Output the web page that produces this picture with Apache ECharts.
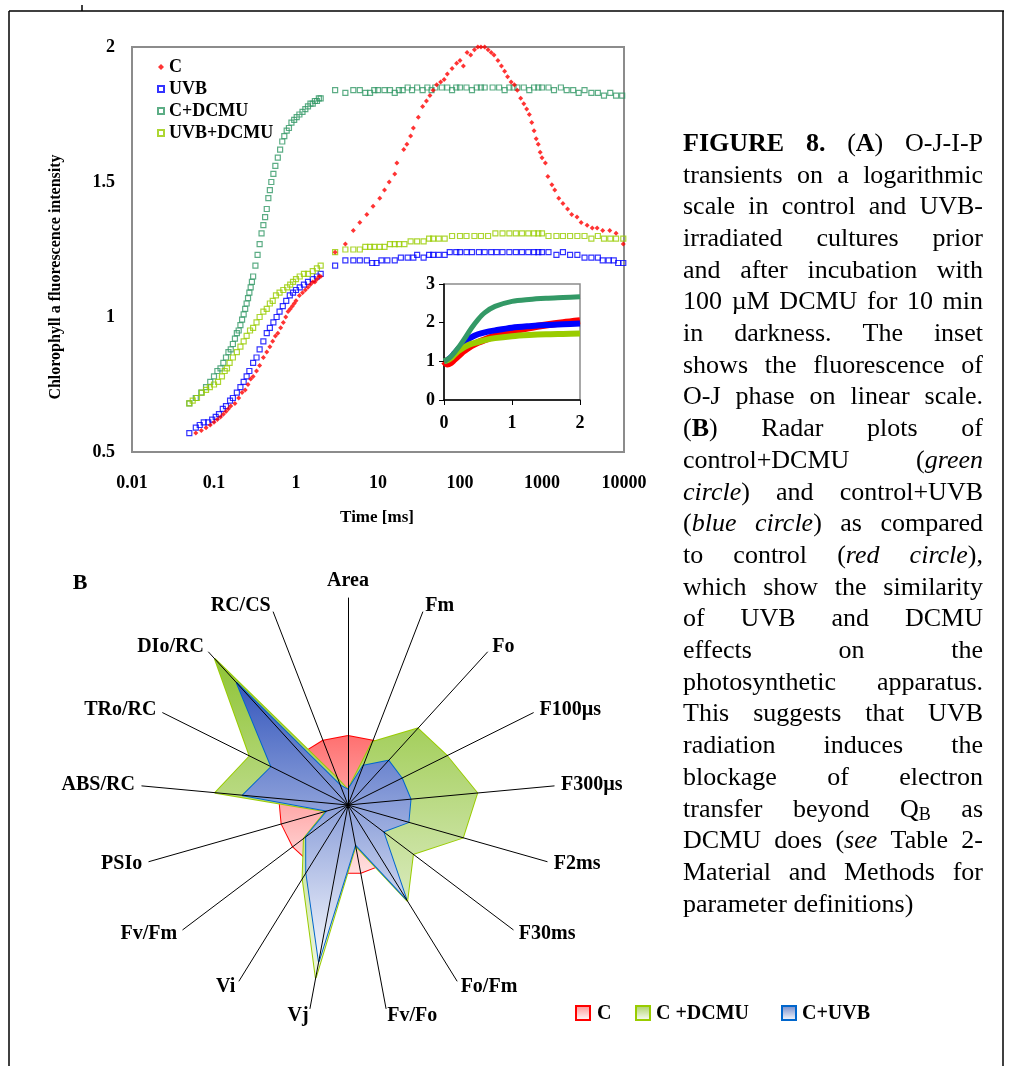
<!DOCTYPE html>
<html><head><meta charset="utf-8">
<script src="https://cdn.jsdelivr.net/npm/echarts@6/dist/echarts.min.js"></script>
<style>html,body{margin:0;padding:0;background:#fff}#c{width:1012px;height:1066px}</style>
</head><body><div id="c"></div>
<script>
// ---------------- DATA ----------------
// (A) main OJIP transients, log time [ms]
const tC = [0.06,0.07,0.08,0.09,0.10,0.11,0.12,0.13,0.14,0.15,0.16,0.18,0.20,0.22,0.24,0.26,0.28,0.30,0.33,0.36,0.40,0.44,0.48,0.52,0.56,0.60,0.65,0.70,0.75,0.80,0.85,0.90,0.95,1.0,1.1,1.2,1.3,1.4,1.5,1.6,1.7,1.8,1.9,2.0,
  3,4,5,6,7.3,8.7,10.5,12,13.7,16,17,20.6,22.5,25,27,31,35,39,43,47,52,58,64,70,80,91,100,110,122,135,150,165,180,200,220,240,260,290,320,350,380,420,460,500,550,600,650,700,750,800,850,900,950,1000,1100,1180,1320,1430,1600,1800,2050,2300,2670,3000,3550,4100,4700,5500,6700,8000,9800];
const fC = [0.57,0.58,0.59,0.60,0.61,0.62,0.63,0.64,0.65,0.66,0.67,0.68,0.70,0.72,0.73,0.75,0.77,0.78,0.80,0.82,0.85,0.87,0.89,0.91,0.93,0.94,0.96,0.98,1.00,1.02,1.03,1.04,1.05,1.06,1.08,1.09,1.10,1.11,1.12,1.13,1.13,1.14,1.15,1.15,
  1.24,1.27,1.32,1.35,1.38,1.41,1.44,1.47,1.50,1.53,1.57,1.62,1.64,1.67,1.70,1.74,1.78,1.80,1.82,1.84,1.86,1.87,1.88,1.90,1.92,1.94,1.95,1.93,1.98,1.97,1.99,2.00,2.00,2.00,1.99,1.98,1.97,1.95,1.93,1.91,1.89,1.87,1.86,1.84,1.81,1.79,1.77,1.75,1.72,1.69,1.66,1.64,1.61,1.59,1.57,1.52,1.49,1.47,1.44,1.42,1.40,1.38,1.37,1.35,1.34,1.33,1.33,1.32,1.32,1.31,1.27];

const tUVB = [0.05,0.06,0.067,0.075,0.085,0.095,0.105,0.115,0.128,0.14,0.157,0.17,0.19,0.21,0.23,0.25,0.27,0.30,0.33,0.36,0.40,0.44,0.48,0.53,0.58,0.63,0.69,0.76,0.84,0.92,1.0,1.11,1.25,1.4,1.6,1.8,2.0,
  3,4,5,6,7.3,8.5,9.6,11,13,16,19,23,27,30,36,42,47,55,65,75,90,100,120,140,170,200,240,280,330,400,480,570,680,800,900,1000,1200,1500,1800,2200,2700,3300,4000,4800,5500,6500,7500,8500,9800];
const fUVB = [0.57,0.59,0.60,0.61,0.61,0.62,0.63,0.64,0.66,0.67,0.69,0.70,0.72,0.74,0.76,0.78,0.80,0.83,0.85,0.88,0.91,0.94,0.96,0.98,1.00,1.02,1.04,1.06,1.08,1.09,1.10,1.11,1.12,1.13,1.14,1.15,1.16,
  1.19,1.21,1.21,1.21,1.21,1.20,1.20,1.21,1.21,1.21,1.22,1.22,1.22,1.23,1.22,1.23,1.23,1.23,1.23,1.24,1.24,1.24,1.24,1.24,1.24,1.24,1.24,1.24,1.24,1.24,1.24,1.24,1.24,1.24,1.24,1.24,1.24,1.23,1.24,1.23,1.23,1.22,1.22,1.22,1.21,1.21,1.21,1.20,1.20];

const tDCMU = [0.05,0.06,0.07,0.08,0.09,0.10,0.11,0.12,0.13,0.14,0.15,0.16,0.17,0.18,0.19,0.20,0.21,0.22,0.23,0.24,0.25,0.26,0.27,0.28,0.29,0.30,0.32,0.34,0.36,0.38,0.40,0.42,0.44,0.46,0.48,0.50,0.53,0.56,0.60,0.64,0.68,0.72,0.77,0.82,0.88,0.95,1.02,1.1,1.2,1.3,1.4,1.5,1.6,1.7,1.8,1.9,2.0,
  3,4,5,6,7,8,9,10,12,14,16,18,20,23,26,30,35,40,45,50,60,70,80,90,100,120,140,160,180,200,250,300,350,400,450,500,600,700,800,900,1000,1200,1400,1700,2000,2400,2800,3300,4000,4800,5700,6800,8000,9500];
const fDCMU = [0.68,0.70,0.72,0.74,0.76,0.78,0.80,0.81,0.83,0.85,0.87,0.88,0.90,0.92,0.94,0.95,0.97,0.99,1.01,1.03,1.05,1.07,1.09,1.11,1.13,1.15,1.19,1.23,1.27,1.31,1.34,1.37,1.40,1.44,1.47,1.50,1.53,1.56,1.59,1.62,1.65,1.67,1.69,1.70,1.72,1.73,1.74,1.75,1.76,1.77,1.78,1.79,1.79,1.80,1.80,1.81,1.81,
  1.84,1.83,1.84,1.84,1.83,1.83,1.84,1.84,1.84,1.84,1.83,1.84,1.84,1.85,1.84,1.85,1.84,1.85,1.84,1.85,1.85,1.85,1.84,1.85,1.85,1.85,1.84,1.85,1.85,1.85,1.85,1.85,1.84,1.85,1.85,1.85,1.85,1.84,1.85,1.85,1.85,1.85,1.84,1.85,1.84,1.84,1.83,1.84,1.83,1.83,1.82,1.83,1.82,1.82];

const tUD = [0.05,0.055,0.062,0.071,0.08,0.089,0.10,0.112,0.125,0.135,0.144,0.155,0.17,0.19,0.21,0.23,0.25,0.275,0.30,0.33,0.36,0.40,0.44,0.48,0.52,0.57,0.63,0.70,0.78,0.85,0.92,1.0,1.11,1.25,1.4,1.6,1.8,2.0,
  3,4,5,6,7,8,9,10.5,12,14,16,18,21,25,30,36,42,47,55,65,80,100,120,150,180,220,270,330,400,480,570,680,800,900,1000,1200,1500,1800,2200,2700,3300,4000,4800,5700,6800,8000,9800];
const fUD = [0.68,0.69,0.70,0.72,0.73,0.74,0.75,0.76,0.78,0.80,0.81,0.83,0.85,0.87,0.89,0.91,0.93,0.95,0.96,0.98,1.00,1.02,1.03,1.05,1.06,1.08,1.09,1.10,1.11,1.12,1.13,1.14,1.15,1.16,1.16,1.17,1.18,1.19,
  1.24,1.25,1.25,1.25,1.26,1.26,1.26,1.26,1.26,1.27,1.27,1.27,1.27,1.28,1.28,1.28,1.29,1.29,1.29,1.29,1.30,1.30,1.30,1.30,1.30,1.30,1.31,1.31,1.31,1.31,1.31,1.31,1.31,1.31,1.31,1.30,1.30,1.30,1.30,1.30,1.30,1.29,1.30,1.29,1.29,1.29,1.29];

// inset: O-J phase, linear time [ms], normalised fluorescence
const insetT = [0,0.05,0.1,0.15,0.2,0.25,0.3,0.4,0.5,0.6,0.75,1.0,1.25,1.5,1.75,2.0];
const insetC    = [1.0,0.93,0.97,1.05,1.13,1.21,1.28,1.40,1.49,1.56,1.65,1.78,1.87,1.94,2.00,2.05];
const insetUVB  = [1.0,1.03,1.10,1.20,1.30,1.40,1.50,1.62,1.70,1.75,1.80,1.87,1.91,1.94,1.96,1.98];
const insetDCMU = [1.0,1.05,1.12,1.22,1.33,1.45,1.58,1.85,2.08,2.26,2.42,2.55,2.60,2.63,2.65,2.67];
const insetUD   = [1.0,1.03,1.08,1.17,1.25,1.31,1.37,1.45,1.50,1.55,1.60,1.65,1.68,1.70,1.71,1.72];

// (B) radar parameters (clockwise from top), relative to control
const radarNames = ['Area','Fm','Fo','F100µs','F300µs','F2ms','F30ms','Fo/Fm','Fv/Fo','Vj','Vi','Fv/Fm','PSIo','ABS/RC','TRo/RC','DIo/RC','RC/CS'];
const radarC    = [1,1,1,1,1,1,1,1,1,1,1,1,1,1,1,1,1];
const radarDCMU = [0.22,0.98,1.50,1.60,1.88,1.73,1.18,1.63,0.60,2.54,1.25,0.80,0.33,1.93,1.59,2.86,0.40];
const radarUVB  = [0.22,0.61,0.87,0.87,0.91,0.91,0.64,1.60,0.58,2.30,1.15,0.76,0.31,1.53,1.24,2.39,0.30];

const xTickLabels = ['0.01','0.1','1','10','100','1000','10000'];

const captionLines = [
 '{b|FIGURE} {b|8.} ({b|A}) O-J-I-P',
 'transients on a logarithmic',
 'scale in control and UVB-',
 'irradiated cultures prior',
 'and after incubation with',
 '100 µM DCMU for 10 min',
 'in darkness. The inset',
 'shows the fluorescence of',
 'O-J phase on linear scale.',
 '({b|B}) Radar plots of',
 'control+DCMU ({i|green}',
 '{i|circle}) and control+UVB',
 '({i|blue} {i|circle}) as compared',
 'to control ({i|red} {i|circle}),',
 'which show the similarity',
 'of UVB and DCMU',
 'effects on the',
 'photosynthetic apparatus.',
 'This suggests that UVB',
 'radiation induces the',
 'blockage of electron',
 'transfer beyond Q{sub|B} as',
 'DCMU does ({i|see} Table 2-',
 'Material and Methods for',
 'parameter definitions)'
];

// ---------------- BUILD ----------------
const SERIF = "'Liberation Serif','Times New Roman',serif";
const chart = echarts.init(document.getElementById('c'));
const pairs = (t, f) => t.map((x, i) => [x, f[i]]);
const N = radarNames.length;
const cw = arr => arr.map((_, i) => arr[(N - i) % N]); // ECharts radar runs counter-clockwise

const grad = (a, b) => new echarts.graphic.LinearGradient(0, 0, 0, 1, [{offset: 0, color: a}, {offset: 1, color: b}]);
const boldTxt = {fontFamily: SERIF, fontWeight: 'bold', color: '#000'};

const indicators = cw(radarNames).map(n => ({name: n, min: 0, max: 3}));

// caption layout (justified)
const mctx = document.createElement('canvas').getContext('2d');
const capSize = 26;
function fontOf(s) {
  if (s === 'b') return 'bold ' + capSize + 'px ' + SERIF;
  if (s === 'i') return 'italic ' + capSize + 'px ' + SERIF;
  if (s === 'sub') return Math.round(capSize * 0.68) + 'px ' + SERIF;
  return capSize + 'px ' + SERIF;
}
function parseWord(w) {
  const segs = []; const re = /\{(b|i|sub)\|([^}]*)\}|([^{]+)/g; let m;
  while ((m = re.exec(w))) { if (m[1]) segs.push({s: m[1], t: m[2]}); else segs.push({s: 'n', t: m[3]}); }
  return segs.map(g => { mctx.font = fontOf(g.s); return Object.assign(g, {w: mctx.measureText(g.t).width}); });
}
const capX = 683, capW = 300, capY0 = 144, capDY = 31.7;
const graphics = [];
captionLines.forEach((line, li) => {
  const words = line.split(' ').map(parseWord);
  const widths = words.map(ws => ws.reduce((a, g) => a + g.w, 0));
  const total = widths.reduce((a, b) => a + b, 0);
  const last = li === captionLines.length - 1;
  mctx.font = fontOf('n');
  const gap = (last || words.length < 2) ? mctx.measureText(' ').width : (capW - total) / (words.length - 1);
  let x = capX;
  const y = capY0 + li * capDY;
  words.forEach((ws, wi) => {
    let sx = x;
    ws.forEach(g => {
      graphics.push({type: 'text', x: sx, y: y + (g.s === 'sub' ? 6 : 0), silent: true,
        style: {text: g.t, font: fontOf(g.s), fill: '#000', textAlign: 'left', textVerticalAlign: 'middle', align: 'left', verticalAlign: 'middle'}});
      sx += g.w;
    });
    x += widths[wi] + gap;
  });
});

// frame
const frameStyle = {stroke: '#000', lineWidth: 1.5};
graphics.push({type: 'line', shape: {x1: 9, y1: 11, x2: 9, y2: 1066}, style: frameStyle, silent: true});
graphics.push({type: 'line', shape: {x1: 9, y1: 11, x2: 1004, y2: 11}, style: frameStyle, silent: true});
graphics.push({type: 'line', shape: {x1: 1003, y1: 11, x2: 1003, y2: 1066}, style: frameStyle, silent: true});
graphics.push({type: 'line', shape: {x1: 82, y1: 5, x2: 82, y2: 11}, style: frameStyle, silent: true});

// axis titles
graphics.push({type: 'text', x: 56, y: 277, rotation: Math.PI / 2, silent: true,
  style: {text: 'Chlorophyll a fluorescence intensity', font: 'bold 16px ' + SERIF, fill: '#000', textAlign: 'center', textVerticalAlign: 'middle', align: 'center', verticalAlign: 'middle'}});
graphics.push({type: 'text', x: 377, y: 518, silent: true,
  style: {text: 'Time [ms]', font: 'bold 17px ' + SERIF, fill: '#000', textAlign: 'center', textVerticalAlign: 'middle', align: 'center', verticalAlign: 'middle'}});
graphics.push({type: 'text', x: 80, y: 583, silent: true,
  style: {text: 'B', font: 'bold 22px ' + SERIF, fill: '#000', textAlign: 'center', textVerticalAlign: 'middle', align: 'center', verticalAlign: 'middle'}});

// radar legend
const radarLegend = [
  {name: 'C', x: 576, tx: 597, stroke: '#ff0000', fill: grad('#ff9090', '#ffffff')},
  {name: 'C +DCMU', x: 636, tx: 656, stroke: '#99cc00', fill: grad('#a8d060', '#ffffff')},
  {name: 'C+UVB', x: 782, tx: 802, stroke: '#0066cc', fill: grad('#6d86c8', '#ffffff')}
];
radarLegend.forEach(l => {
  graphics.push({type: 'rect', shape: {x: l.x, y: 1006, width: 14, height: 14}, style: {fill: l.fill, stroke: l.stroke, lineWidth: 2}, silent: true});
  graphics.push({type: 'text', x: l.tx, y: 1014, silent: true,
    style: {text: l.name, font: 'bold 20px ' + SERIF, fill: '#000', textAlign: 'left', textVerticalAlign: 'middle', align: 'left', verticalAlign: 'middle'}});
});

const hollow = c => ({color: 'rgba(255,255,255,0)', borderColor: c, borderWidth: 1.2});
const labelStyle = (m) => Object.assign({margin: m, fontSize: 18}, boldTxt);

const radarBase = {center: [348, 805], radius: 207, startAngle: 90, shape: 'polygon', indicator: indicators,
  splitLine: {show: false}, splitArea: {show: false}, axisTick: {show: false}, axisLabel: {show: false}};

const option = {
  animation: false,
  backgroundColor: '#fff',
  legend: {
    data: ['C', 'UVB', 'C+DCMU', 'UVB+DCMU'], orient: 'vertical', left: 157, top: 58,
    itemWidth: 6, itemHeight: 6, itemGap: 4, padding: 0, selectedMode: false,
    textStyle: {fontFamily: SERIF, fontWeight: 'bold', fontSize: 18, color: '#000', lineHeight: 18}
  },
  grid: [
    {left: 132, top: 47, width: 492, height: 405, show: true, borderColor: '#8c8c8c', borderWidth: 2, backgroundColor: 'transparent'},
    {left: 444, top: 284, width: 136, height: 116, show: true, borderColor: '#8c8c8c', borderWidth: 1.5, backgroundColor: '#fff'}
  ],
  xAxis: [
    {type: 'log', gridIndex: 0, logBase: 10, min: 0.01, max: 10000, axisLine: {show: false}, axisTick: {show: false}, splitLine: {show: false},
      axisLabel: Object.assign(labelStyle(22), {formatter: v => xTickLabels[Math.round(Math.log10(v)) + 2]})},
    {type: 'value', gridIndex: 1, min: 0, max: 2, interval: 1, axisLine: {lineStyle: {color: '#000', width: 1.5}},
      axisTick: {show: true, length: 5, lineStyle: {color: '#000'}}, splitLine: {show: false}, axisLabel: labelStyle(14)}
  ],
  yAxis: [
    {type: 'value', gridIndex: 0, min: 0.5, max: 2, interval: 0.5, axisLine: {show: false}, axisTick: {show: false}, splitLine: {show: false},
      axisLabel: labelStyle(17)},
    {type: 'value', gridIndex: 1, min: 0, max: 3, interval: 1, axisLine: {lineStyle: {color: '#000', width: 1.5}},
      axisTick: {show: true, length: 5, lineStyle: {color: '#000'}}, splitLine: {show: false}, axisLabel: labelStyle(9)}
  ],
  radar: [
    Object.assign({}, radarBase, {axisName: {show: false}, axisLine: {show: false}, z: 1}),
    Object.assign({}, radarBase, {nameGap: 7, axisName: Object.assign({fontSize: 20}, boldTxt), axisLine: {lineStyle: {color: '#000', width: 1}}, z: 5})
  ],
  series: [
    {name: 'UVB', type: 'scatter', xAxisIndex: 0, yAxisIndex: 0, symbol: 'rect', symbolSize: 5, itemStyle: hollow('#0000ff'), data: pairs(tUVB, fUVB), z: 2},
    {name: 'C+DCMU', type: 'scatter', xAxisIndex: 0, yAxisIndex: 0, symbol: 'rect', symbolSize: 5, itemStyle: hollow('#339966'), data: pairs(tDCMU, fDCMU), z: 2},
    {name: 'UVB+DCMU', type: 'scatter', xAxisIndex: 0, yAxisIndex: 0, symbol: 'rect', symbolSize: 5, itemStyle: hollow('#99cc00'), data: pairs(tUD, fUD), z: 2},
    {name: 'C', type: 'scatter', xAxisIndex: 0, yAxisIndex: 0, symbol: 'diamond', symbolSize: 5, itemStyle: {color: '#ff0000'}, data: pairs(tC, fC), z: 3},
    {name: 'inset C', type: 'line', xAxisIndex: 1, yAxisIndex: 1, symbol: 'none', smooth: 0.3, lineStyle: {color: '#ff0000', width: 7}, data: pairs(insetT, insetC), z: 3},
    {name: 'inset UVB', type: 'line', xAxisIndex: 1, yAxisIndex: 1, symbol: 'none', smooth: 0.3, lineStyle: {color: '#0000ff', width: 6}, data: pairs(insetT, insetUVB), z: 3},
    {name: 'inset UVB+DCMU', type: 'line', xAxisIndex: 1, yAxisIndex: 1, symbol: 'none', smooth: 0.3, lineStyle: {color: '#99cc00', width: 6}, data: pairs(insetT, insetUD), z: 3},
    {name: 'inset C+DCMU', type: 'line', xAxisIndex: 1, yAxisIndex: 1, symbol: 'none', smooth: 0.3, lineStyle: {color: '#339966', width: 5}, data: pairs(insetT, insetDCMU), z: 3},
    {name: 'Radar', type: 'radar', radarIndex: 0, symbol: 'none', z: 2,
      data: [
        {name: 'C', value: cw(radarC), lineStyle: {color: '#ff0000', width: 2}, areaStyle: {color: grad('#ff7070', '#ffe0e0'), opacity: 1}},
        {name: 'C +DCMU', value: cw(radarDCMU), lineStyle: {color: '#99cc00', width: 2}, areaStyle: {color: grad('#8fc436', '#f0f6e6'), opacity: 1}},
        {name: 'C+UVB', value: cw(radarUVB), lineStyle: {color: '#0066cc', width: 2}, areaStyle: {color: grad('#3658bd', '#f6f8fd'), opacity: 1}}
      ]}
  ],
  graphic: graphics
};
chart.setOption(option);
</script></body></html>
